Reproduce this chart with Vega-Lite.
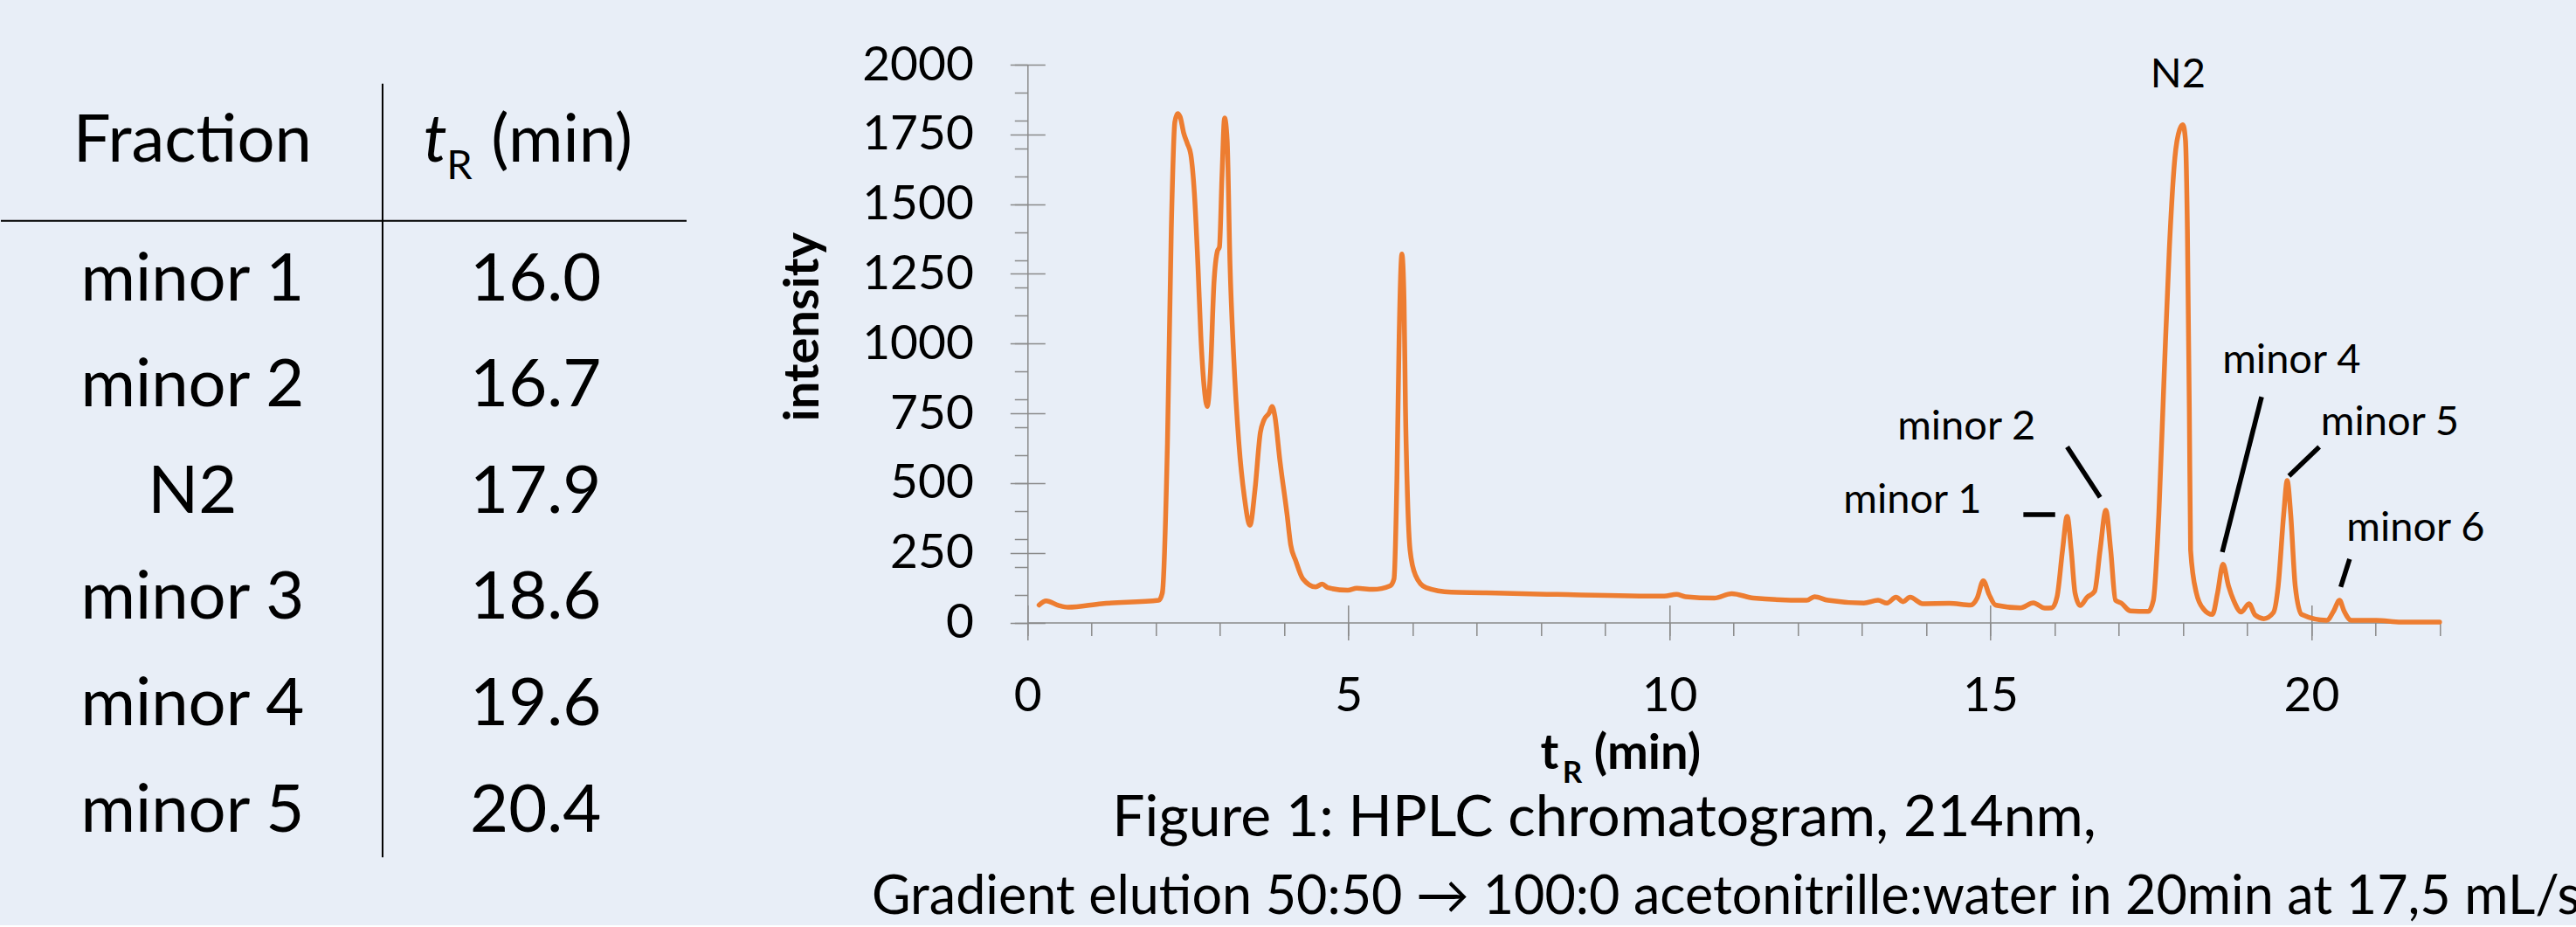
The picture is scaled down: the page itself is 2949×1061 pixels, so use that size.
{
  "$schema": "https://vega.github.io/schema/vega-lite/v6.json",
  "background": "#e8eef7",
  "padding": {"left": 0, "top": 47, "right": 0, "bottom": 0},
  "bounds": "flush",
  "spacing": 390.3,
  "datasets": {
    "fractions": [
      {"fraction": "minor 1", "tR": 16.0, "row": 1},
      {"fraction": "minor 2", "tR": 16.7, "row": 2},
      {"fraction": "N2", "tR": 17.9, "row": 3},
      {"fraction": "minor 3", "tR": 18.6, "row": 4},
      {"fraction": "minor 4", "tR": 19.6, "row": 5},
      {"fraction": "minor 5", "tR": 20.4, "row": 6}
    ],
    "chromatogram": [
      {"t_min": 0.18, "intensity": 63}, {"t_min": 0.29, "intensity": 78}, {"t_min": 0.49, "intensity": 61}, {"t_min": 0.63, "intensity": 55},
      {"t_min": 1.155, "intensity": 68}, {"t_min": 2.044, "intensity": 80}, {"t_min": 2.10, "intensity": 106}, {"t_min": 2.18, "intensity": 643},
      {"t_min": 2.24, "intensity": 1410}, {"t_min": 2.295, "intensity": 1794}, {"t_min": 2.338, "intensity": 1825}, {"t_min": 2.378, "intensity": 1813},
      {"t_min": 2.433, "intensity": 1755}, {"t_min": 2.49, "intensity": 1717}, {"t_min": 2.544, "intensity": 1678}, {"t_min": 2.60, "intensity": 1538},
      {"t_min": 2.655, "intensity": 1282}, {"t_min": 2.70, "intensity": 1027}, {"t_min": 2.756, "intensity": 835}, {"t_min": 2.80, "intensity": 775},
      {"t_min": 2.85, "intensity": 899}, {"t_min": 2.905, "intensity": 1218}, {"t_min": 2.96, "intensity": 1333}, {"t_min": 2.99, "intensity": 1346},
      {"t_min": 3.03, "intensity": 1602}, {"t_min": 3.07, "intensity": 1809}, {"t_min": 3.11, "intensity": 1730}, {"t_min": 3.155, "intensity": 1282},
      {"t_min": 3.21, "intensity": 963}, {"t_min": 3.293, "intensity": 643}, {"t_min": 3.378, "intensity": 451}, {"t_min": 3.466, "intensity": 349},
      {"t_min": 3.544, "intensity": 477}, {"t_min": 3.627, "intensity": 681}, {"t_min": 3.683, "intensity": 726}, {"t_min": 3.766, "intensity": 752},
      {"t_min": 3.81, "intensity": 775}, {"t_min": 3.85, "intensity": 745}, {"t_min": 3.933, "intensity": 579}, {"t_min": 4.044, "intensity": 387},
      {"t_min": 4.10, "intensity": 279}, {"t_min": 4.18, "intensity": 221}, {"t_min": 4.29, "intensity": 157}, {"t_min": 4.49, "intensity": 128},
      {"t_min": 4.59, "intensity": 138}, {"t_min": 4.68, "intensity": 125}, {"t_min": 4.99, "intensity": 116}, {"t_min": 5.13, "intensity": 123},
      {"t_min": 5.38, "intensity": 119}, {"t_min": 5.65, "intensity": 132}, {"t_min": 5.71, "intensity": 157}, {"t_min": 5.755, "intensity": 515},
      {"t_min": 5.79, "intensity": 1027}, {"t_min": 5.833, "intensity": 1321}, {"t_min": 5.866, "intensity": 1154}, {"t_min": 5.888, "intensity": 771},
      {"t_min": 5.92, "intensity": 451}, {"t_min": 5.96, "intensity": 260}, {"t_min": 6.044, "intensity": 170}, {"t_min": 6.21, "intensity": 125},
      {"t_min": 6.6, "intensity": 109}, {"t_min": 7.14, "intensity": 107}, {"t_min": 7.43, "intensity": 105}, {"t_min": 8.25, "intensity": 101},
      {"t_min": 9.92, "intensity": 95}, {"t_min": 10.11, "intensity": 101}, {"t_min": 10.25, "intensity": 93}, {"t_min": 10.70, "intensity": 88},
      {"t_min": 10.97, "intensity": 104}, {"t_min": 11.31, "intensity": 88}, {"t_min": 12.14, "intensity": 80}, {"t_min": 12.26, "intensity": 93},
      {"t_min": 12.47, "intensity": 80}, {"t_min": 13.03, "intensity": 70}, {"t_min": 13.25, "intensity": 80}, {"t_min": 13.39, "intensity": 70},
      {"t_min": 13.53, "intensity": 91}, {"t_min": 13.64, "intensity": 75}, {"t_min": 13.75, "intensity": 91}, {"t_min": 13.945, "intensity": 68},
      {"t_min": 14.36, "intensity": 69}, {"t_min": 14.695, "intensity": 63}, {"t_min": 14.795, "intensity": 88}, {"t_min": 14.89, "intensity": 150},
      {"t_min": 14.98, "intensity": 101}, {"t_min": 15.08, "intensity": 63}, {"t_min": 15.47, "intensity": 53}, {"t_min": 15.67, "intensity": 71},
      {"t_min": 15.85, "intensity": 52}, {"t_min": 15.96, "intensity": 53}, {"t_min": 16.04, "intensity": 93}, {"t_min": 16.125, "intensity": 260},
      {"t_min": 16.197, "intensity": 381}, {"t_min": 16.26, "intensity": 260}, {"t_min": 16.32, "intensity": 106}, {"t_min": 16.40, "intensity": 61},
      {"t_min": 16.51, "intensity": 91}, {"t_min": 16.625, "intensity": 112}, {"t_min": 16.71, "intensity": 260}, {"t_min": 16.80, "intensity": 403},
      {"t_min": 16.875, "intensity": 260}, {"t_min": 16.95, "intensity": 80}, {"t_min": 17.04, "intensity": 70}, {"t_min": 17.18, "intensity": 42},
      {"t_min": 17.46, "intensity": 40}, {"t_min": 17.54, "intensity": 80}, {"t_min": 17.625, "intensity": 387}, {"t_min": 17.71, "intensity": 899},
      {"t_min": 17.79, "intensity": 1346}, {"t_min": 17.875, "intensity": 1666}, {"t_min": 17.95, "intensity": 1768}, {"t_min": 18.0, "intensity": 1785},
      {"t_min": 18.04, "intensity": 1730}, {"t_min": 18.07, "intensity": 1410}, {"t_min": 18.10, "intensity": 771}, {"t_min": 18.12, "intensity": 260},
      {"t_min": 18.21, "intensity": 106}, {"t_min": 18.32, "intensity": 49}, {"t_min": 18.46, "intensity": 29}, {"t_min": 18.54, "intensity": 106},
      {"t_min": 18.625, "intensity": 209}, {"t_min": 18.71, "intensity": 132}, {"t_min": 18.79, "intensity": 80}, {"t_min": 18.91, "intensity": 38},
      {"t_min": 19.03, "intensity": 68}, {"t_min": 19.125, "intensity": 27}, {"t_min": 19.26, "intensity": 14}, {"t_min": 19.41, "intensity": 36},
      {"t_min": 19.485, "intensity": 132}, {"t_min": 19.57, "intensity": 387}, {"t_min": 19.625, "intensity": 509}, {"t_min": 19.68, "intensity": 387},
      {"t_min": 19.75, "intensity": 132}, {"t_min": 19.85, "intensity": 29}, {"t_min": 20.24, "intensity": 8}, {"t_min": 20.35, "intensity": 42},
      {"t_min": 20.44, "intensity": 80}, {"t_min": 20.51, "intensity": 42}, {"t_min": 20.625, "intensity": 8}, {"t_min": 21.01, "intensity": 8},
      {"t_min": 21.40, "intensity": 2}, {"t_min": 22.0, "intensity": 2}
    ],
    "leaders": [
      {"peak": "minor 1", "t1": 15.515, "i1": 387, "t2": 16.01, "i2": 387},
      {"peak": "minor 2", "t1": 16.197, "i1": 630, "t2": 16.71, "i2": 449},
      {"peak": "minor 4", "t1": 19.226, "i1": 809, "t2": 18.614, "i2": 253},
      {"peak": "minor 5", "t1": 20.125, "i1": 630, "t2": 19.653, "i2": 526},
      {"peak": "minor 6", "t1": 20.597, "i1": 228, "t2": 20.459, "i2": 128}
    ],
    "labels": [
      {"label": "N2", "t_min": 17.924, "intensity": 1920},
      {"label": "minor 1", "t_min": 13.787, "intensity": 392},
      {"label": "minor 2", "t_min": 14.629, "intensity": 657},
      {"label": "minor 4", "t_min": 19.692, "intensity": 895},
      {"label": "minor 5", "t_min": 21.225, "intensity": 671},
      {"label": "minor 6", "t_min": 21.625, "intensity": 292}
    ]
  },
  "hconcat": [
    {
      "width": 785,
      "height": 907.5,
      "title": {
        "text": "Gradient elution 50:50 → 100:0 acetonitrille:water in 20min at 17,5 mL/s",
        "orient": "bottom", "anchor": "middle", "frame": "group", "dx": 1582.5, "offset": 16,
        "font": "Lato, DejaVu Sans", "fontSize": 61, "fontWeight": "normal", "color": "#000000", "baseline": "top"
      },
      "data": {"name": "fractions"},
      "layer": [
        {
          "mark": {"type": "text", "font": "Lato", "fontSize": 76, "align": "center", "baseline": "alphabetic", "color": "#000000"},
          "encoding": {
            "x": {"datum": 1, "type": "quantitative", "scale": {"domain": [0.4418, 2.4398], "nice": false, "zero": false}, "axis": null},
            "y": {"field": "row", "type": "quantitative", "scale": {"domain": [-1.217, 6.246], "nice": false, "zero": false, "reverse": true}, "axis": null},
            "text": {"field": "fraction"}
          }
        },
        {
          "mark": {"type": "text", "font": "Lato", "fontSize": 76, "align": "center", "baseline": "alphabetic", "color": "#000000"},
          "encoding": {
            "x": {"datum": 2, "type": "quantitative", "scale": {"domain": [0.4418, 2.4398], "nice": false, "zero": false}, "axis": null},
            "y": {"field": "row", "type": "quantitative", "scale": {"domain": [-1.217, 6.246], "nice": false, "zero": false, "reverse": true}, "axis": null},
            "text": {"field": "tR", "type": "quantitative", "format": ".1f"}
          }
        },
        {
          "data": {"values": [{"header": "Fraction"}]},
          "mark": {"type": "text", "font": "Lato", "fontSize": 76, "align": "center", "baseline": "alphabetic", "color": "#000000"},
          "encoding": {
            "x": {"datum": 1, "type": "quantitative", "scale": {"domain": [0.4418, 2.4398], "nice": false, "zero": false}, "axis": null},
            "y": {"datum": -0.303, "type": "quantitative", "scale": {"domain": [-1.217, 6.246], "nice": false, "zero": false, "reverse": true}, "axis": null},
            "text": {"field": "header"}
          }
        },
        {
          "data": {"values": [{"header": "t"}]},
          "mark": {"type": "text", "font": "Lato", "fontStyle": "italic", "fontSize": 76, "align": "left", "baseline": "alphabetic", "dx": -128.5, "color": "#000000"},
          "encoding": {
            "x": {"datum": 2, "type": "quantitative", "scale": {"domain": [0.4418, 2.4398], "nice": false, "zero": false}, "axis": null},
            "y": {"datum": -0.303, "type": "quantitative", "scale": {"domain": [-1.217, 6.246], "nice": false, "zero": false, "reverse": true}, "axis": null},
            "text": {"field": "header"}
          }
        },
        {
          "data": {"values": [{"header": "R"}]},
          "mark": {"type": "text", "font": "Lato", "fontSize": 47, "align": "left", "baseline": "alphabetic", "dx": -102, "color": "#000000"},
          "encoding": {
            "x": {"datum": 2, "type": "quantitative", "scale": {"domain": [0.4418, 2.4398], "nice": false, "zero": false}, "axis": null},
            "y": {"datum": -0.139, "type": "quantitative", "scale": {"domain": [-1.217, 6.246], "nice": false, "zero": false, "reverse": true}, "axis": null},
            "text": {"field": "header"}
          }
        },
        {
          "data": {"values": [{"header": "(min)"}]},
          "mark": {"type": "text", "font": "Lato", "fontSize": 76, "align": "left", "baseline": "alphabetic", "dx": -51, "color": "#000000"},
          "encoding": {
            "x": {"datum": 2, "type": "quantitative", "scale": {"domain": [0.4418, 2.4398], "nice": false, "zero": false}, "axis": null},
            "y": {"datum": -0.303, "type": "quantitative", "scale": {"domain": [-1.217, 6.246], "nice": false, "zero": false, "reverse": true}, "axis": null},
            "text": {"field": "header"}
          }
        },
        {
          "data": {"values": [{}]},
          "mark": {"type": "rule", "color": "#000000", "strokeWidth": 2},
          "encoding": {
            "y": {"datum": 0.252, "type": "quantitative", "scale": {"domain": [-1.217, 6.246], "nice": false, "zero": false, "reverse": true}, "axis": null}
          }
        },
        {
          "data": {"values": [{}]},
          "mark": {"type": "rule", "color": "#000000", "strokeWidth": 2},
          "encoding": {
            "x": {"datum": 1.554, "type": "quantitative", "scale": {"domain": [0.4418, 2.4398], "nice": false, "zero": false}, "axis": null},
            "y": {"datum": -1.038, "type": "quantitative", "scale": {"domain": [-1.217, 6.246], "nice": false, "zero": false, "reverse": true}, "axis": null},
            "y2": {"datum": 6.243}
          }
        }
      ]
    },
    {
      "width": 1616.6,
      "height": 638.6,
      "title": {
        "text": "Figure 1: HPLC chromatogram, 214nm,",
        "orient": "bottom", "anchor": "middle", "frame": "group", "dx": -148, "offset": 2,
        "font": "Lato", "fontSize": 66, "fontWeight": "normal", "color": "#000000", "baseline": "top"
      },
      "layer": [
        {
          "data": {"name": "chromatogram"},
          "mark": {"type": "line", "color": "#ed7d31", "strokeWidth": 5.5, "interpolate": "monotone", "strokeJoin": "round", "strokeCap": "round"},
          "encoding": {
            "x": {
              "field": "t_min", "type": "quantitative",
              "scale": {"domain": [0, 22], "nice": false, "zero": false},
              "axis": {"orient": "bottom", "values": [0, 5, 10, 15, 20], "format": "d", "tickSize": 20, "labelPadding": 38, "labelFlush": false, "labelOverlap": false,
                       "title": "(min)", "titleX": 648, "titleY": 166.5, "titleAlign": "left", "titleBaseline": "alphabetic", "titleAngle": 0, "titleFontSize": 56, "titleFontWeight": "bold"}
            },
            "y": {
              "field": "intensity", "type": "quantitative",
              "scale": {"domain": [0, 2000], "nice": false, "zero": false},
              "axis": {"orient": "left", "values": [0, 250, 500, 750, 1000, 1250, 1500, 1750, 2000], "format": "d", "tickSize": 20, "labelPadding": 42, "labelOverlap": false,
                       "title": "intensity", "titleX": -239.7, "titleY": 299.7, "titleAngle": -90, "titleAlign": "center", "titleBaseline": "alphabetic", "titleFontSize": 56, "titleFontWeight": "bold"}
            }
          }
        },
        {
          "data": {"name": "leaders"},
          "mark": {"type": "rule", "color": "#000000", "strokeWidth": 5.5, "strokeCap": "butt"},
          "encoding": {
            "x": {
              "field": "t1", "type": "quantitative",
              "scale": {"domain": [0, 22], "nice": false, "zero": false},
              "axis": {"orient": "bottom", "values": [0, 5, 10, 15, 20], "tickSize": -20, "labels": false, "domain": false,
                       "title": "t", "titleX": 586.7, "titleY": 166.5, "titleAlign": "left", "titleBaseline": "alphabetic", "titleAngle": 0, "titleFontSize": 56, "titleFontWeight": "bold"}
            },
            "x2": {"field": "t2"},
            "y": {
              "field": "i1", "type": "quantitative",
              "scale": {"domain": [0, 2000], "nice": false, "zero": false},
              "axis": {"orient": "left", "values": [0, 250, 500, 750, 1000, 1250, 1500, 1750, 2000], "tickSize": -20, "labels": false, "domain": false, "title": null}
            },
            "y2": {"field": "i2"}
          }
        },
        {
          "data": {"name": "labels"},
          "mark": {"type": "text", "font": "Lato", "fontSize": 47, "align": "center", "baseline": "alphabetic", "color": "#000000"},
          "encoding": {
            "x": {
              "field": "t_min", "type": "quantitative",
              "scale": {"domain": [0, 22], "nice": false, "zero": false},
              "axis": {"orient": "bottom", "values": [0, 1, 2, 3, 4, 5, 6, 7, 8, 9, 10, 11, 12, 13, 14, 15, 16, 17, 18, 19, 20, 21, 22], "tickSize": 15, "labels": false, "domain": false,
                       "title": "R", "titleX": 612, "titleY": 183, "titleAlign": "left", "titleBaseline": "alphabetic", "titleAngle": 0, "titleFontSize": 35, "titleFontWeight": "bold"}
            },
            "y": {
              "field": "intensity", "type": "quantitative",
              "scale": {"domain": [0, 2000], "nice": false, "zero": false},
              "axis": {"orient": "left", "values": [0, 100, 200, 300, 400, 500, 600, 700, 800, 900, 1000, 1100, 1200, 1300, 1400, 1500, 1600, 1700, 1800, 1900, 2000], "tickSize": 15, "labels": false, "domain": false, "title": null}
            },
            "text": {"field": "label"}
          }
        }
      ],
      "resolve": {"axis": {"x": "independent", "y": "independent"}}
    }
  ],
  "config": {
    "font": "Lato",
    "view": {"stroke": null},
    "axis": {
      "grid": false,
      "labelFont": "Lato",
      "labelFontSize": 55,
      "labelColor": "#000000",
      "titleFont": "Lato",
      "titleColor": "#000000",
      "domainColor": "#8a8a8a",
      "domainWidth": 1.5,
      "tickColor": "#8a8a8a",
      "tickWidth": 1.5
    }
  }
}
